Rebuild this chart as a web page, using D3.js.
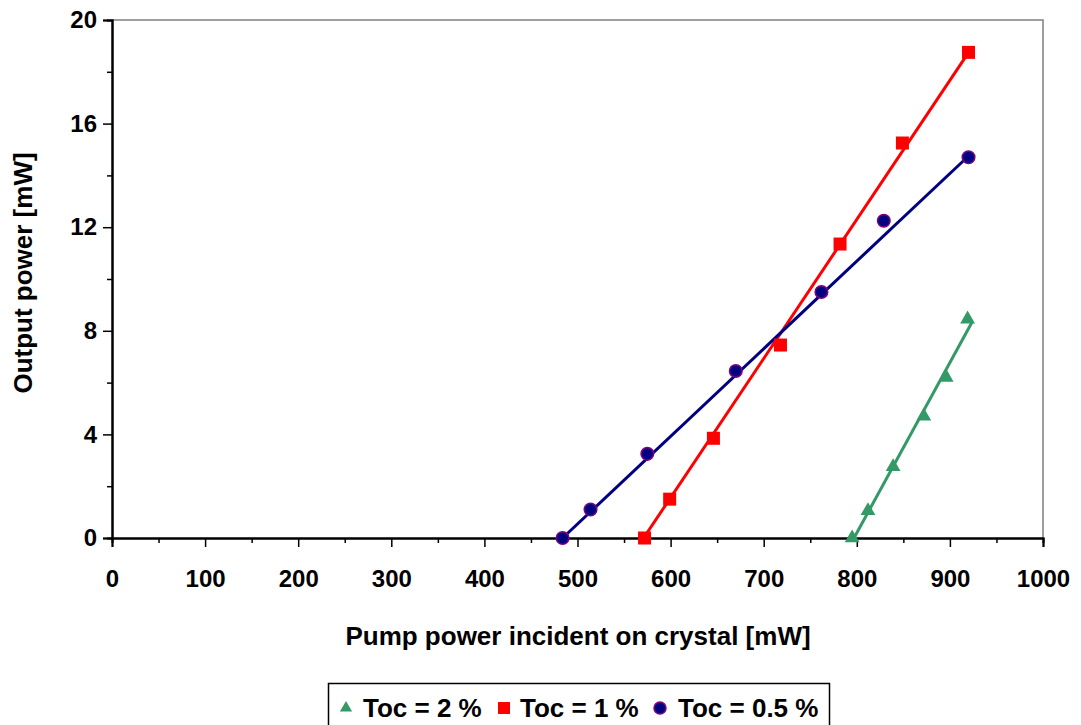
<!DOCTYPE html>
<meta charset="utf-8">
<style>
body { margin: 0; background: #fff; font-family: "Liberation Sans", Arial, sans-serif; }
text { font-weight: bold; fill: #000; }
</style>
<body>
<svg id="chart" width="1081" height="725"></svg>
<script src="https://cdn.jsdelivr.net/npm/d3@7"></script>
<script>

// measured points
var toc2X = [795, 812, 839, 872, 896, 919];
var toc2Y = [0, 1.05, 2.75, 4.7, 6.2, 8.45];
var toc1X = [572, 599, 646, 718, 782, 849, 920];
var toc1Y = [0, 1.5, 3.85, 7.45, 11.35, 15.25, 18.75];
var toc05X = [484, 514, 575, 670, 762, 829, 920];
var toc05Y = [0, 1.1, 3.25, 6.45, 9.5, 12.25, 14.7];

// linear fit lines (end points)
var fit2X = [797, 924], fit2Y = [0, 8.35];
var fit1X = [571, 921], fit1Y = [0, 18.8];
var fit05X = [484, 920], fit05Y = [0, 14.75];

var xTicks = [0, 100, 200, 300, 400, 500, 600, 700, 800, 900, 1000];
var yTicks = [0, 4, 8, 12, 16, 20];
var legendLabels = ["Toc = 2 %", "Toc = 1 %", "Toc = 0.5 %"];

var margin = {left: 112, top: 20, right: 1043, bottom: 538};

var x = d3.scaleLinear().domain([0, 1000]).range([margin.left, margin.right]);
var y = d3.scaleLinear().domain([0, 20]).range([margin.bottom, margin.top]);

var svg = d3.select("#chart");

// plot frame (top + right)
svg.append("path")
    .attr("d", "M" + margin.left + "," + margin.top + "H" + margin.right + "V" + margin.bottom)
    .attr("fill", "none")
    .attr("stroke", "#808080")
    .attr("stroke-width", 1.5);

// minor ticks
var xMinor = svg.append("g").attr("transform", "translate(0," + margin.bottom + ")")
    .call(d3.axisBottom(x).tickValues(d3.range(50, 1000, 100)).tickSize(5).tickFormat(""));
var yMinor = svg.append("g").attr("transform", "translate(" + margin.left + ",0)")
    .call(d3.axisLeft(y).tickValues(d3.range(2, 20, 4)).tickSize(5).tickFormat(""));

var xAxis = svg.append("g").attr("transform", "translate(0," + margin.bottom + ")")
    .call(d3.axisBottom(x).tickValues(xTicks).tickSize(9).tickPadding(23).tickFormat(d3.format("d")));
var yAxis = svg.append("g").attr("transform", "translate(" + margin.left + ",0)")
    .call(d3.axisLeft(y).tickValues(yTicks).tickSize(9).tickPadding(6).tickFormat(d3.format("d")));

[xMinor, yMinor, xAxis, yAxis].forEach(function(g) {
  g.selectAll(".domain").attr("stroke", "#000").attr("stroke-width", 2);
  g.selectAll(".tick line").attr("stroke", "#000").attr("stroke-width", 1.5);
  g.selectAll("text").style("font-size", "24px").style("font-weight", "bold")
    .style("font-family", "'Liberation Sans', Arial, sans-serif").attr("fill", "#000");
});
xAxis.selectAll("text").attr("dy", "0.71em");

// axis titles
svg.append("text")
    .attr("x", 578).attr("y", 645)
    .attr("text-anchor", "middle")
    .style("font-size", "26px")
    .text("Pump power incident on crystal [mW]");

svg.append("text")
    .attr("transform", "translate(32,273) rotate(-90)")
    .attr("text-anchor", "middle")
    .style("font-size", "26px")
    .text("Output power [mW]");

var line = d3.line().x(function(d) { return x(d[0]); }).y(function(d) { return y(d[1]); });

function drawFit(xs, ys, color) {
  svg.append("path")
      .datum(d3.zip(xs, ys))
      .attr("d", line)
      .attr("fill", "none")
      .attr("stroke", color)
      .attr("stroke-width", 3);
}

drawFit(fit2X, fit2Y, "#339966");
drawFit(fit1X, fit1Y, "#ff0000");
drawFit(fit05X, fit05Y, "#000080");

var tri = d3.symbol().type(d3.symbolTriangle).size(95);

svg.append("g").selectAll("path")
    .data(d3.zip(toc2X, toc2Y))
    .join("path")
    .attr("transform", function(d) { return "translate(" + x(d[0]) + "," + y(d[1]) + ")"; })
    .attr("d", tri)
    .attr("fill", "#339966");

svg.append("g").selectAll("rect")
    .data(d3.zip(toc1X, toc1Y))
    .join("rect")
    .attr("x", function(d) { return x(d[0]) - 6.5; })
    .attr("y", function(d) { return y(d[1]) - 6.5; })
    .attr("width", 13).attr("height", 13)
    .attr("fill", "#ff0000");

svg.append("g").selectAll("circle")
    .data(d3.zip(toc05X, toc05Y))
    .join("circle")
    .attr("cx", function(d) { return x(d[0]); })
    .attr("cy", function(d) { return y(d[1]); })
    .attr("r", 6.3)
    .attr("fill", "#000080")
    .attr("stroke", "#800080")
    .attr("stroke-width", 1.5);

// legend
var legend = svg.append("g");
legend.append("rect")
    .attr("x", 328.5).attr("y", 683.5)
    .attr("width", 501).attr("height", 60)
    .attr("fill", "#fff").attr("stroke", "#000").attr("stroke-width", 1.5);

var legX = [346, 504, 660];
var textX = [363, 520, 678];
var legY = 707;

legend.append("path")
    .attr("transform", "translate(" + legX[0] + "," + (legY + 1) + ")")
    .attr("d", d3.symbol().type(d3.symbolTriangle).size(65))
    .attr("fill", "#339966");
legend.append("rect")
    .attr("x", legX[1] - 6).attr("y", legY - 5).attr("width", 12).attr("height", 12)
    .attr("fill", "#ff0000");
legend.append("circle")
    .attr("cx", legX[2]).attr("cy", legY + 1).attr("r", 6)
    .attr("fill", "#000080").attr("stroke", "#800080").attr("stroke-width", 1.5);

legend.selectAll("text.leg")
    .data(legendLabels)
    .join("text")
    .attr("class", "leg")
    .attr("x", function(d, i) { return textX[i]; })
    .attr("y", legY + 10)
    .style("font-size", "26px")
    .text(function(d) { return d; });

</script>
</body>
